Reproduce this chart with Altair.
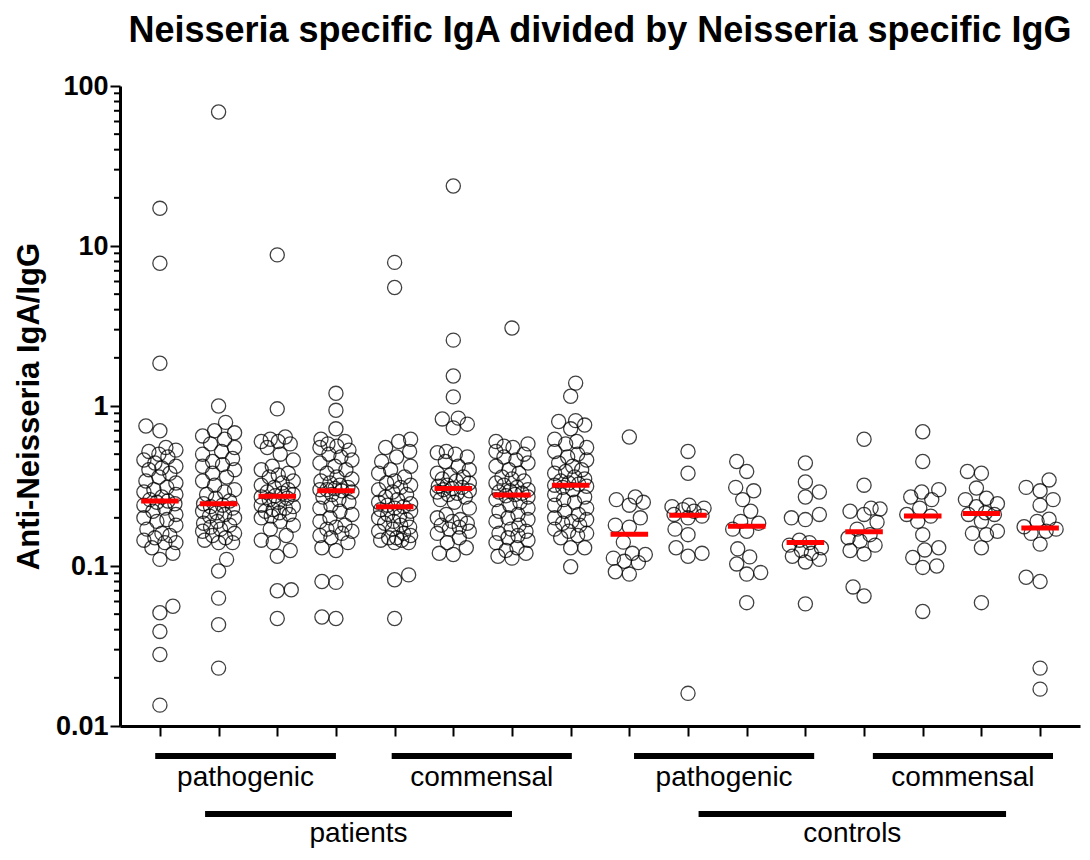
import math
import altair as alt
import pandas as pd

# ---------------- data ----------------
group_ids = list(range(16))

g0 = [17.2, 7.8, 1.85, 0.75, 0.70, 0.55, 0.53, 0.52, 0.50, 0.48, 0.46, 0.44, 0.42, 0.41, 0.40, 0.38,
      0.36, 0.34, 0.33, 0.31, 0.30, 0.29, 0.28, 0.27, 0.26, 0.255, 0.25, 0.245, 0.24, 0.23, 0.22, 0.21,
      0.20, 0.195, 0.19, 0.18, 0.17, 0.16, 0.155, 0.15, 0.145, 0.14, 0.14, 0.13, 0.12, 0.11,
      0.056, 0.051, 0.039, 0.028, 0.0135]
g1 = [68.8, 1.0, 0.79, 0.70, 0.68, 0.65, 0.62, 0.58, 0.55, 0.52, 0.50, 0.47, 0.45, 0.43, 0.42, 0.40,
      0.38, 0.36, 0.34, 0.32, 0.30, 0.29, 0.28, 0.265, 0.255, 0.245, 0.24, 0.235, 0.23, 0.22, 0.215,
      0.21, 0.205, 0.20, 0.19, 0.185, 0.18, 0.175, 0.17, 0.165, 0.16, 0.155, 0.15, 0.145, 0.14, 0.14,
      0.11, 0.093, 0.063, 0.043, 0.023]
g2 = [8.8, 0.96, 0.64, 0.62, 0.60, 0.60, 0.58, 0.55, 0.50, 0.46, 0.42, 0.40, 0.38, 0.37, 0.36, 0.34,
      0.33, 0.32, 0.31, 0.30, 0.29, 0.285, 0.28, 0.275, 0.27, 0.265, 0.26, 0.25, 0.24, 0.235, 0.23,
      0.225, 0.22, 0.215, 0.21, 0.205, 0.20, 0.19, 0.18, 0.17, 0.155, 0.145, 0.14, 0.125, 0.115,
      0.071, 0.070, 0.047]
g3 = [1.2, 0.94, 0.72, 0.62, 0.60, 0.58, 0.56, 0.55, 0.53, 0.50, 0.48, 0.46, 0.44, 0.42, 0.40, 0.38,
      0.36, 0.35, 0.34, 0.33, 0.32, 0.31, 0.305, 0.30, 0.30, 0.295, 0.29, 0.28, 0.27, 0.26, 0.25, 0.24,
      0.23, 0.22, 0.21, 0.20, 0.19, 0.18, 0.175, 0.17, 0.165, 0.16, 0.155, 0.15, 0.14, 0.13, 0.125,
      0.08, 0.079, 0.048, 0.047]
g4 = [7.9, 5.5, 0.62, 0.60, 0.55, 0.52, 0.48, 0.45, 0.42, 0.40, 0.38, 0.36, 0.34, 0.33, 0.32, 0.31,
      0.30, 0.29, 0.28, 0.27, 0.145, 0.26, 0.15, 0.25, 0.245, 0.24, 0.235, 0.23, 0.225, 0.22, 0.21,
      0.205, 0.20, 0.195, 0.19, 0.185, 0.18, 0.175, 0.17, 0.165, 0.16, 0.155, 0.15, 0.145, 0.14, 0.14,
      0.088, 0.082, 0.047]
g5 = [23.7, 2.58, 1.54, 1.14, 0.84, 0.83, 0.77, 0.73, 0.52, 0.51, 0.50, 0.48, 0.45, 0.42, 0.40, 0.38,
      0.37, 0.36, 0.35, 0.34, 0.33, 0.32, 0.315, 0.31, 0.305, 0.30, 0.295, 0.29, 0.285, 0.28, 0.27,
      0.26, 0.25, 0.23, 0.21, 0.20, 0.195, 0.19, 0.185, 0.18, 0.175, 0.17, 0.165, 0.16, 0.15, 0.14,
      0.13, 0.12, 0.118]
g6 = [3.07, 0.60, 0.58, 0.56, 0.55, 0.52, 0.50, 0.48, 0.46, 0.44, 0.42, 0.40, 0.38, 0.36, 0.35, 0.34,
      0.33, 0.32, 0.31, 0.30, 0.295, 0.29, 0.285, 0.28, 0.275, 0.27, 0.26, 0.25, 0.24, 0.23, 0.22, 0.21,
      0.20, 0.195, 0.19, 0.18, 0.17, 0.165, 0.16, 0.155, 0.15, 0.145, 0.14, 0.13, 0.125, 0.12, 0.115,
      0.112]
g7 = [1.39, 1.15, 0.81, 0.80, 0.76, 0.72, 0.62, 0.60, 0.58, 0.55, 0.52, 0.50, 0.48, 0.46, 0.44, 0.42,
      0.40, 0.39, 0.38, 0.36, 0.35, 0.34, 0.33, 0.325, 0.32, 0.315, 0.31, 0.30, 0.28, 0.27, 0.26, 0.25,
      0.24, 0.23, 0.22, 0.21, 0.20, 0.195, 0.19, 0.185, 0.18, 0.17, 0.165, 0.16, 0.155, 0.15, 0.13,
      0.13, 0.099]
g8 = [0.64, 0.27, 0.26, 0.25, 0.24, 0.20, 0.18, 0.175, 0.141, 0.12, 0.118, 0.112, 0.107, 0.105,
      0.092, 0.089]
g9 = [0.52, 0.38, 0.24, 0.235, 0.23, 0.225, 0.22, 0.21, 0.205, 0.20, 0.17, 0.157, 0.13, 0.12, 0.115,
      0.016]
g10 = [0.45, 0.39, 0.31, 0.295, 0.26, 0.22, 0.19, 0.185, 0.17, 0.165, 0.128, 0.114, 0.103, 0.091,
       0.089, 0.059]
g11 = [0.44, 0.335, 0.29, 0.27, 0.21, 0.20, 0.195, 0.145, 0.14, 0.135, 0.13, 0.125, 0.12, 0.115, 0.11,
       0.106, 0.058]
g12 = [0.62, 0.32, 0.23, 0.227, 0.22, 0.21, 0.188, 0.17, 0.157, 0.15, 0.143, 0.135, 0.125, 0.119,
       0.074, 0.065]
g13 = [0.69, 0.45, 0.30, 0.29, 0.27, 0.26, 0.23, 0.21, 0.205, 0.19, 0.157, 0.13, 0.126, 0.113, 0.10,
       0.098, 0.052]
g14 = [0.39, 0.38, 0.307, 0.265, 0.26, 0.245, 0.235, 0.215, 0.21, 0.21, 0.19, 0.165, 0.16, 0.157,
       0.13, 0.059]
g15 = [0.345, 0.31, 0.295, 0.26, 0.24, 0.196, 0.19, 0.176, 0.17, 0.165, 0.16, 0.137, 0.085, 0.08,
       0.023, 0.017]

series = [g0, g1, g2, g3, g4, g5, g6, g7, g8, g9, g10, g11, g12, g13, g14, g15]

# bracket labels under the axis
bracket_labels = ["pathogenic", "commensal", "pathogenic", "commensal", "patients", "controls"]
bracket_start = [-0.08, 3.95, 8.08, 12.15, 0.77, 9.18]
bracket_end = [3.0, 7.02, 11.15, 15.22, 6.0, 14.42]
bracket_row = [0, 0, 0, 0, 1, 1]

y_ticks = [0.01, 0.1, 1, 10, 100]
y_tick_labels = ["0.01", "0.1", "1", "10", "100"]

# ---------------- layout ----------------
WIDTH, HEIGHT = 960, 640
X_DOMAIN = [-0.68, 15.68]
Y_DOMAIN = [0.01, 100]
FONT = "Liberation Sans"

px_per_unit = WIDTH / (X_DOMAIN[1] - X_DOMAIN[0])
px_per_decade = HEIGHT / (math.log10(Y_DOMAIN[1]) - math.log10(Y_DOMAIN[0]))
DIAM = 14.0   # collision distance in px
HALF_W = 16   # maximal horizontal spread (px)

# deterministic beeswarm layout
rows = []
for gi, vals in zip(group_ids, series):
    placed = []
    for v in sorted(vals):
        yp = math.log10(v) * px_per_decade
        first_neg = len(placed) % 2 == 1
        cands = [0]
        for k in range(1, HALF_W + 1):
            cands += ([-k, k] if first_neg else [k, -k])
        chosen, best, bestd = None, 0, -1.0
        for c in cands:
            md = min((math.hypot(c - px, yp - py) for px, py in placed), default=1e9)
            if md >= DIAM:
                chosen = c
                break
            if md > bestd:
                bestd, best = md, c
        if chosen is None:
            chosen = best
        placed.append((chosen, yp))
        rows.append({"group": gi, "value": v, "xpos": gi + chosen / px_per_unit})

points_df = pd.DataFrame(rows)
med_src = pd.DataFrame({"group": [r["group"] for r in rows], "value": [r["value"] for r in rows]})

br_df = pd.DataFrame({"label": bracket_labels, "start": bracket_start, "end": bracket_end,
                      "row": bracket_row})
br_df["mid"] = (br_df["start"] + br_df["end"]) / 2

minor_vals = []
for dec in [0.01, 0.1, 1, 10]:
    for m in range(2, 10):
        minor_vals.append(round(dec * m, 6))
minor_df = pd.DataFrame({"v": minor_vals})

label_expr = ("datum.value >= 1 ? format(datum.value, 'd') : "
              "(datum.value >= 0.1 ? '0.1' : '0.01')")

xscale = alt.Scale(domain=X_DOMAIN, nice=False, zero=False)
yscale = alt.Scale(type="log", domain=Y_DOMAIN, nice=False)

xaxis = alt.Axis(values=group_ids, labels=False, title="", grid=False, tickSize=10, tickWidth=2,
                 tickColor="black", domainColor="black", domainWidth=3, orient="bottom")
yaxis = alt.Axis(values=y_ticks, labelExpr=label_expr, title="Anti-Neisseria IgA/IgG", grid=False,
                 tickSize=10, tickWidth=2, tickColor="black", domainColor="black", domainWidth=3,
                 labelFont=FONT, labelFontSize=27, labelFontWeight="bold", labelColor="black",
                 labelPadding=2, titleFont=FONT, titleFontSize=31, titleFontWeight="bold",
                 titleColor="black", titlePadding=10, orient="left")

pts = alt.Chart(points_df).mark_point(
    shape="circle", filled=False, size=200, stroke="black", strokeWidth=1.3, strokeOpacity=0.75,
    opacity=1
).encode(
    x=alt.X("xpos:Q", scale=xscale, axis=xaxis),
    y=alt.Y("value:Q", scale=yscale, axis=yaxis),
)

medians = alt.Chart(med_src).transform_aggregate(
    med="median(value)", groupby=["group"]
).transform_calculate(
    x1="datum.group - 0.32", x2="datum.group + 0.32"
).mark_rule(color="#ff0000", strokeWidth=5).encode(
    x=alt.X("x1:Q", scale=xscale, axis=xaxis),
    x2="x2:Q",
    y=alt.Y("med:Q", scale=yscale, axis=yaxis),
)

minor = alt.Chart(minor_df).mark_rule(color="black", strokeWidth=2).encode(
    y=alt.Y("v:Q", scale=yscale, axis=yaxis),
    x=alt.value(-6),
    x2=alt.value(0),
)

row0 = br_df[br_df["row"] == 0]
row1 = br_df[br_df["row"] == 1]

BAR0_Y, TXT0_Y, BAR1_Y, TXT1_Y = 670, 700, 728, 756

bars0 = alt.Chart(row0).mark_rule(color="black", strokeWidth=6).encode(
    x=alt.X("start:Q", scale=xscale, axis=xaxis), x2="end:Q", y=alt.value(BAR0_Y))
bars1 = alt.Chart(row1).mark_rule(color="black", strokeWidth=6).encode(
    x=alt.X("start:Q", scale=xscale, axis=xaxis), x2="end:Q", y=alt.value(BAR1_Y))
txt0 = alt.Chart(row0).mark_text(font=FONT, fontSize=28, color="black", baseline="alphabetic",
                                 align="center").encode(
    x=alt.X("mid:Q", scale=xscale, axis=xaxis), y=alt.value(TXT0_Y), text="label:N")
txt1 = alt.Chart(row1).mark_text(font=FONT, fontSize=28, color="black", baseline="alphabetic",
                                 align="center").encode(
    x=alt.X("mid:Q", scale=xscale, axis=xaxis), y=alt.value(TXT1_Y), text="label:N")

chart = alt.layer(pts, medians, minor, bars0, bars1, txt0, txt1).properties(
    width=WIDTH, height=HEIGHT,
    background="white",
    title=alt.TitleParams("Neisseria specific IgA divided by Neisseria specific IgG",
                          font=FONT, fontSize=36, fontWeight="bold", color="black",
                          anchor="middle", frame="group", offset=22),
    autosize=alt.AutoSizeParams(type="none"),
    padding={"left": 112, "top": 78, "right": 2, "bottom": 124},
).configure_view(strokeWidth=0, stroke="transparent")

chart.save("out.html", embed_options={"renderer": "svg", "actions": False})
